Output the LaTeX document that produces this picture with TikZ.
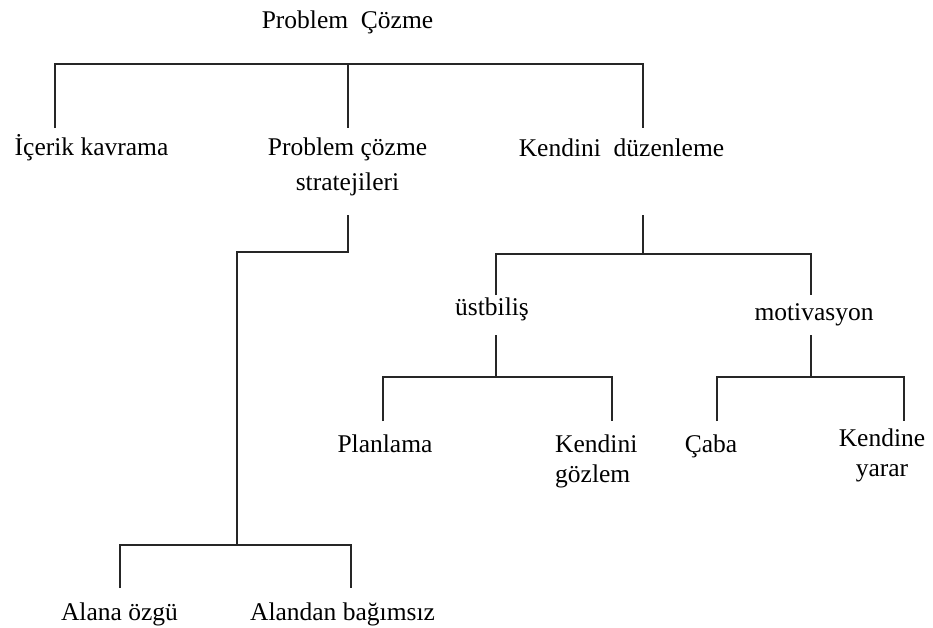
\documentclass[tikz,border=0pt]{standalone}
\usepackage{fontspec}
\setmainfont{Liberation Serif}
\begin{document}
\begin{tikzpicture}[x=1pt,y=-1pt,
  lbl/.style={anchor=base, inner sep=0pt, text=black,
    font=\fontsize{25.5}{30}\selectfont},
  link/.style={line width=1.4pt, draw=black!85, line join=miter}]
\fill[white] (0,0) rectangle (933,627);
\useasboundingbox (0,0) rectangle (933,627);

% labels (two-line labels are placed by the baseline of their last line)
\node[lbl] (root) at (347.5,28) {Problem\ \ Çözme};
\node[lbl] (ic)   at (91.5,155) {İçerik kavrama};
\node[lbl, align=center] (pcs) at (347.5,190) {Problem çözme\\[5pt]stratejileri};
\node[lbl] (kd)   at (621.5,156) {Kendini\ \ düzenleme};
\node[lbl] (ust)  at (492,315) {üstbiliş};
\node[lbl] (mot)  at (814,320) {motivasyon};
\node[lbl] (pl)   at (385,452) {Planlama};
\node[lbl, align=left, anchor=base west] (kg) at (555,482) {Kendini\\gözlem};
\node[lbl] (caba) at (711,452) {Çaba};
\node[lbl, align=center] (ky) at (882,476) {Kendine\\yarar};
\node[lbl] (ao)   at (119.5,620) {Alana özgü};
\node[lbl] (ab)   at (342.5,620) {Alandan bağımsız};

% connector points
\coordinate (ic-tip)   at (55,128);
\coordinate (rt-l)     at (55,64);
\coordinate (rt-m)     at (348,64);
\coordinate (rt-r)     at (643,64);
\coordinate (pcs-tip)  at (348,128);
\coordinate (kd-tip)   at (643,128);

\coordinate (pcs-stem) at (348,215);
\coordinate (pcs-bend) at (348,252);
\coordinate (pcs-arm)  at (237,252);
\coordinate (pcs-bus)  at (237,545);
\coordinate (ao-bus)   at (120,545);
\coordinate (ab-bus)   at (351,545);
\coordinate (ao-tip)   at (120,588);
\coordinate (ab-tip)   at (351,588);

\coordinate (kd-stem)  at (643,215);
\coordinate (kd-bus)   at (643,254);
\coordinate (ust-bus)  at (496,254);
\coordinate (mot-bus)  at (811,254);
\coordinate (ust-tip)  at (496,295);
\coordinate (mot-tip)  at (811,295);

\coordinate (ust-stem) at (496,335);
\coordinate (ust-mid)  at (496,377);
\coordinate (pl-bus)   at (383,377);
\coordinate (kg-bus)   at (612,377);
\coordinate (pl-tip)   at (383,421);
\coordinate (kg-tip)   at (612,421);

\coordinate (mot-stem) at (811,335);
\coordinate (mot-mid)  at (811,377);
\coordinate (caba-bus) at (717,377);
\coordinate (ky-bus)   at (904,377);
\coordinate (caba-tip) at (717,421);
\coordinate (ky-tip)   at (904,421);

% top level
\draw[link] (ic-tip) -- (rt-l) -- (rt-r) -- (kd-tip);
\draw[link] (rt-m) -- (pcs-tip);

% problem solving strategies
\draw[link] (pcs-stem) -- (pcs-bend) -- (pcs-arm) -- (pcs-bus);
\draw[link] (ao-tip) -- (ao-bus) -- (ab-bus) -- (ab-tip);

% self regulation
\draw[link] (kd-stem) -- (kd-bus);
\draw[link] (ust-tip) -- (ust-bus) -- (mot-bus) -- (mot-tip);

% metacognition
\draw[link] (ust-stem) -- (ust-mid);
\draw[link] (pl-tip) -- (pl-bus) -- (kg-bus) -- (kg-tip);

% motivation
\draw[link] (mot-stem) -- (mot-mid);
\draw[link] (caba-tip) -- (caba-bus) -- (ky-bus) -- (ky-tip);
\end{tikzpicture}
\end{document}
